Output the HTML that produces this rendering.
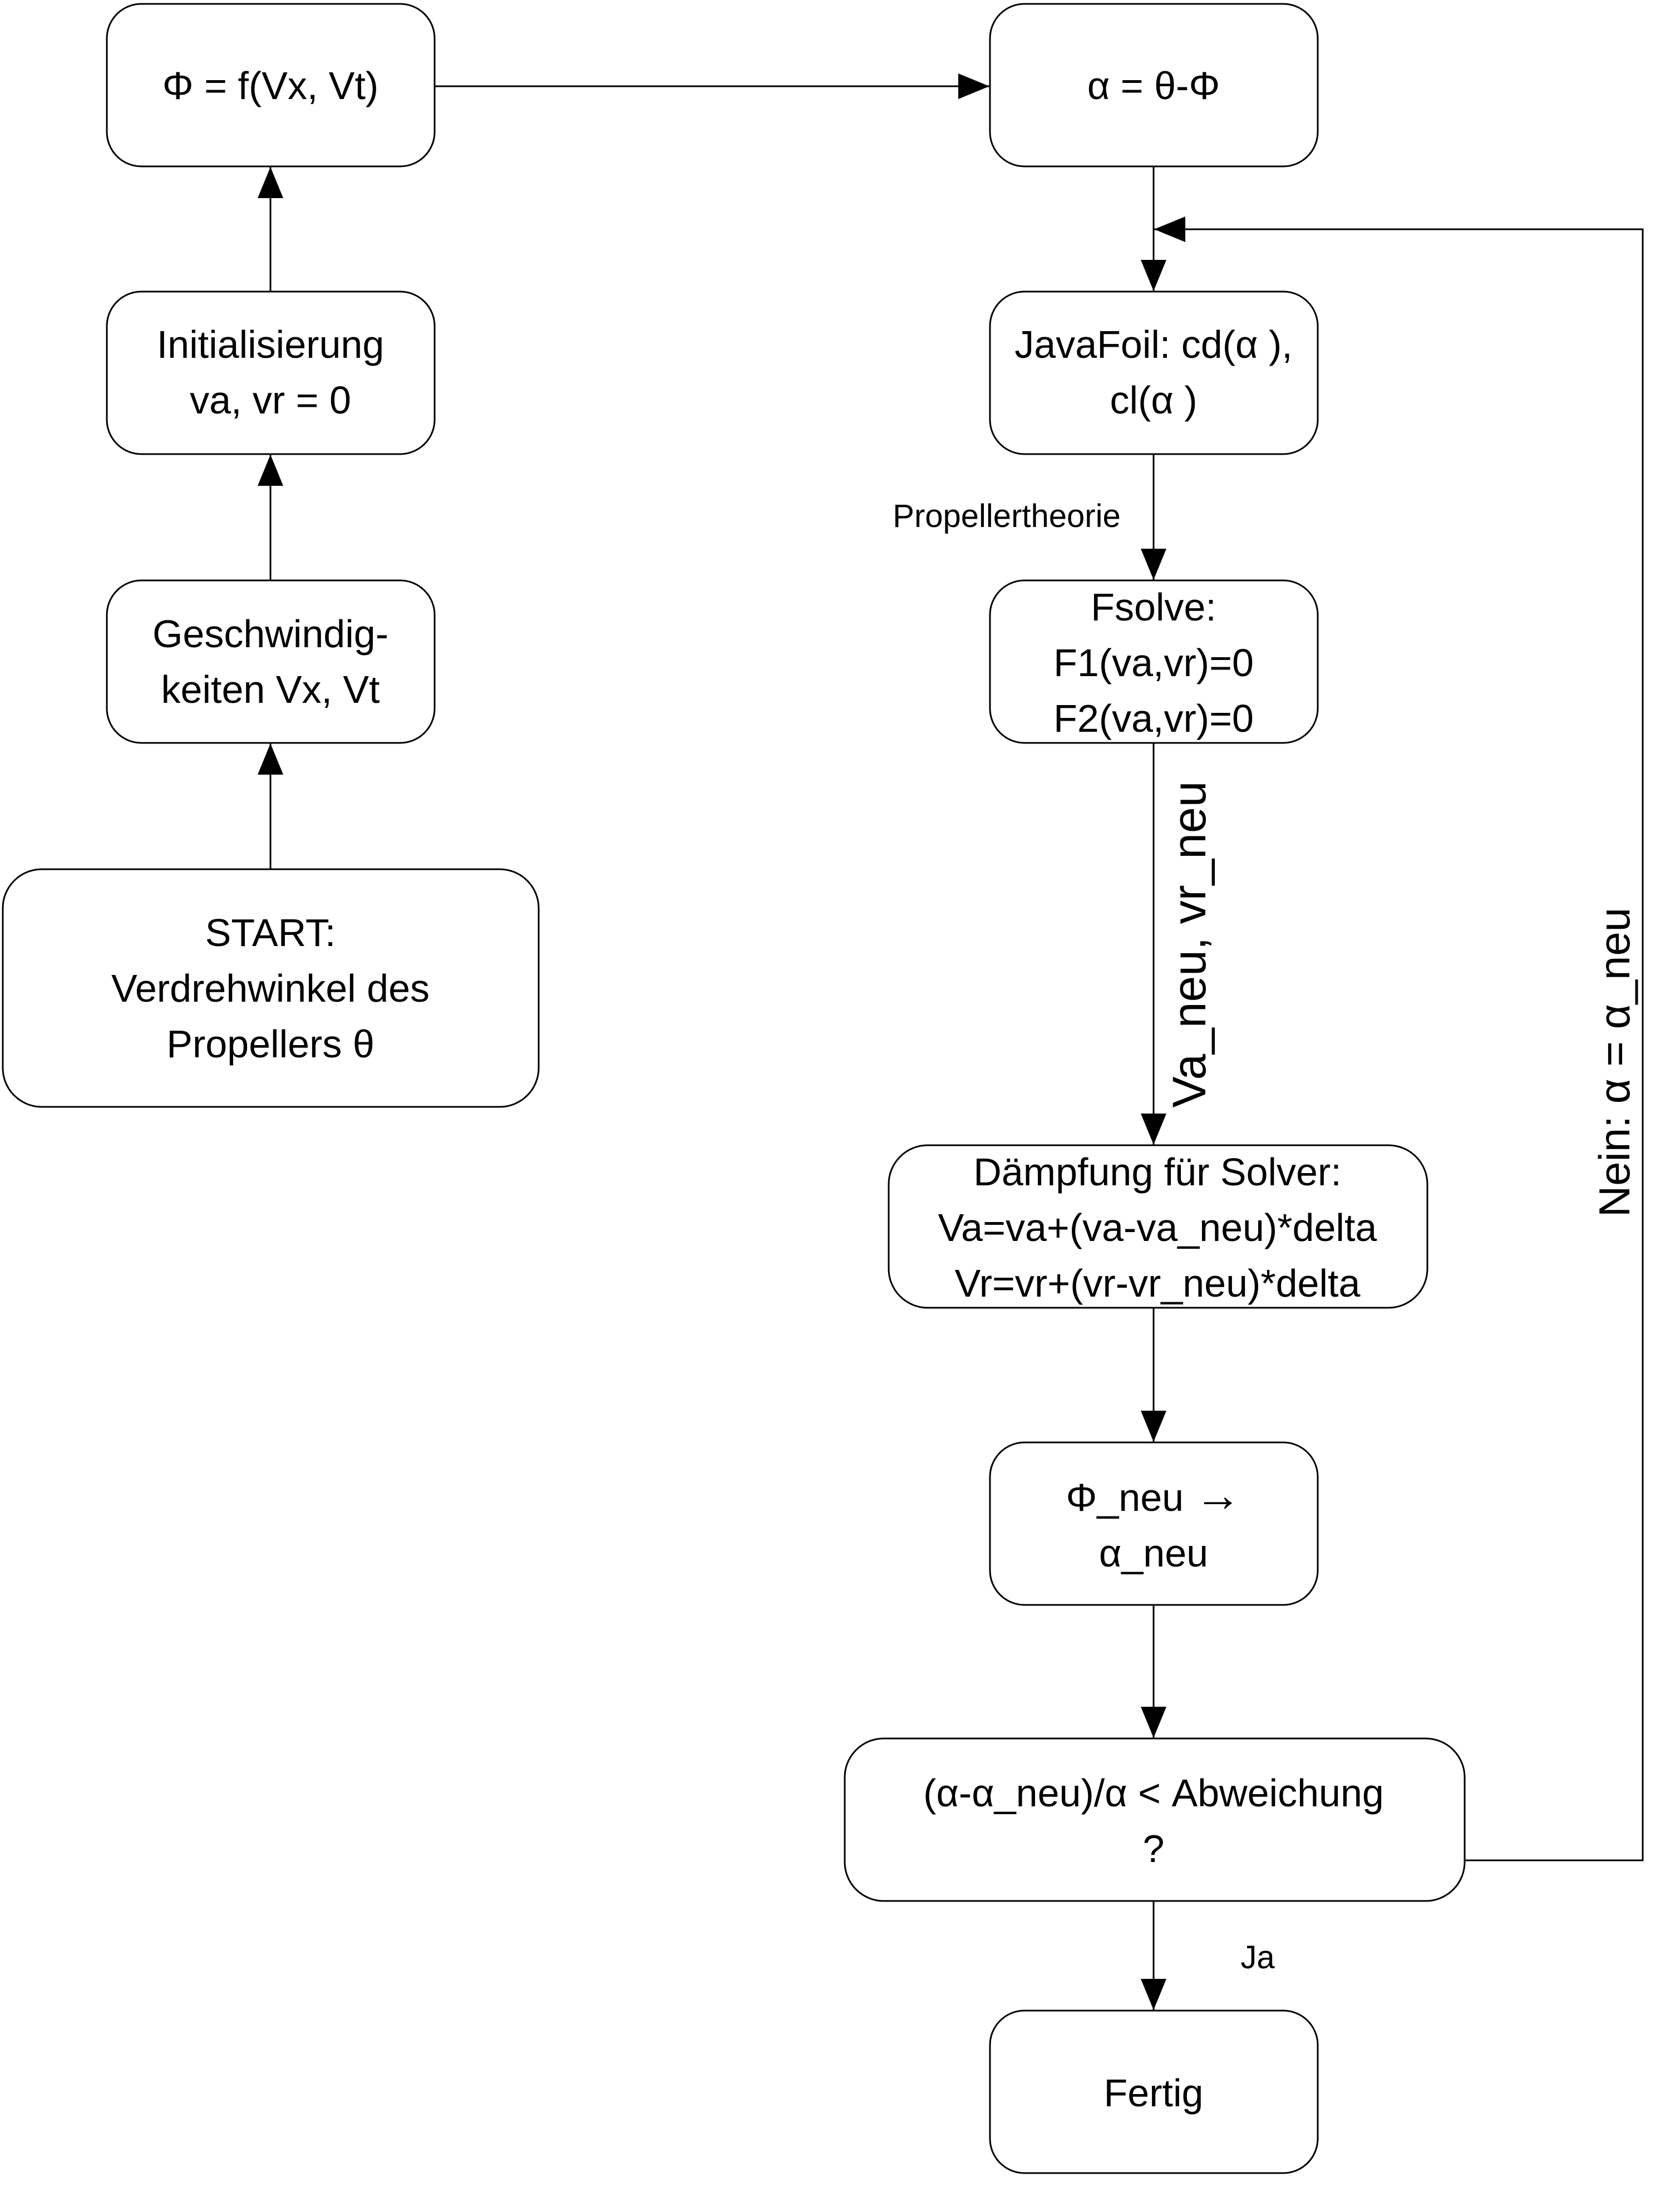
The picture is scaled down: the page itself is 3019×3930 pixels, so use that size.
<!DOCTYPE html>
<html><head><meta charset="utf-8"><style>
html,body{margin:0;padding:0;background:#fff}
</style></head><body>
<svg xmlns="http://www.w3.org/2000/svg" width="3019" height="3925" viewBox="0 0 3019 3925" font-family="Liberation Sans, sans-serif">
<defs><marker id="a" markerWidth="56" markerHeight="46" refX="56" refY="23" orient="auto" markerUnits="userSpaceOnUse"><path d="M0,0 L56,23 L0,46 Z" fill="#000"/></marker></defs>
<g fill="#fff" stroke="#000" stroke-width="3">
<rect x="192" y="7" width="589" height="292" rx="62"/>
<rect x="1779" y="7" width="589" height="292" rx="62"/>
<rect x="192" y="524" width="589" height="292" rx="62"/>
<rect x="192" y="1043" width="589" height="292" rx="62"/>
<rect x="5" y="1562" width="963" height="427" rx="70"/>
<rect x="1779" y="524" width="589" height="292" rx="62"/>
<rect x="1779" y="1043" width="589" height="292" rx="62"/>
<rect x="1597" y="2058" width="968" height="292" rx="70"/>
<rect x="1779" y="2592" width="589" height="292" rx="62"/>
<rect x="1518" y="3124" width="1114" height="292" rx="70"/>
<rect x="1779" y="3613" width="589" height="292" rx="62"/>
</g>
<g stroke="#000" stroke-width="3" fill="none" marker-end="url(#a)">
<line x1="486" y1="1562" x2="486" y2="1336"/>
<line x1="486" y1="1043" x2="486" y2="817"/>
<line x1="486" y1="524" x2="486" y2="300"/>
<line x1="781" y1="155" x2="1778" y2="155"/>
<line x1="2073" y1="299" x2="2073" y2="523"/>
<line x1="2073" y1="816" x2="2073" y2="1042"/>
<line x1="2073" y1="1335" x2="2073" y2="2057"/>
<line x1="2073" y1="2350" x2="2073" y2="2591"/>
<line x1="2073" y1="2884" x2="2073" y2="3123"/>
<line x1="2073" y1="3416" x2="2073" y2="3612"/>
<polyline points="2632,3343 2952,3343 2952,412 2074,412"/>
</g>
<g font-size="70" text-anchor="middle" fill="#000">
<text x="486" y="178">Φ = f(Vx, Vt)</text>
<text x="2073" y="178">α = θ-Φ</text>
<text x="486" y="643">Initialisierung</text>
<text x="486" y="743">va, vr = 0</text>
<text x="486" y="1163">Geschwindig-</text>
<text x="486" y="1263">keiten Vx, Vt</text>
<text x="486" y="1700">START:</text>
<text x="486" y="1800">Verdrehwinkel des</text>
<text x="486" y="1900">Propellers θ</text>
<text x="2073" y="643">JavaFoil: cd(α ),</text>
<text x="2073" y="743">cl(α )</text>
<text x="2073" y="1115">Fsolve:</text>
<text x="2073" y="1215">F1(va,vr)=0</text>
<text x="2073" y="1315">F2(va,vr)=0</text>
<text x="2080" y="2130">Dämpfung für Solver:</text>
<text x="2080" y="2230">Va=va+(va-va_neu)*delta</text>
<text x="2080" y="2330">Vr=vr+(vr-vr_neu)*delta</text>
<text x="2073" y="2715">Φ_neu <tspan font-size="84">→</tspan></text>
<text x="2073" y="2815">α_neu</text>
<text x="2073" y="3246">(α-α_neu)/α &lt; Abweichung</text>
<text x="2073" y="3346">?</text>
<text x="2073" y="3785">Fertig</text>
<text x="1809" y="947" font-size="58">Propellertheorie</text>
<text x="2260" y="3537" font-size="58">Ja</text>
<text transform="translate(2166,1697) rotate(-90)" font-size="84">Va_neu, vr_neu</text>
<text transform="translate(2928,1909) rotate(-90)" font-size="78">Nein: α = α_neu</text>
</g>
</svg>
</body></html>
